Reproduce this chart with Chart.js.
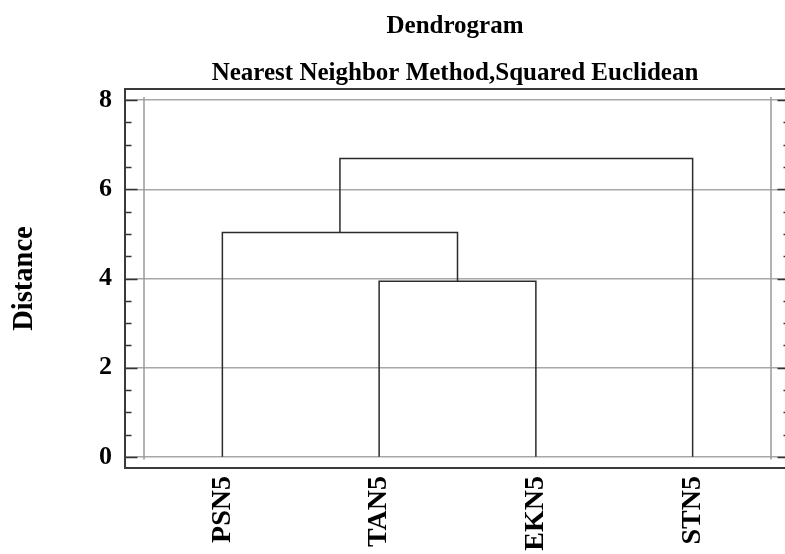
<!DOCTYPE html>
<html>
<head>
<meta charset="utf-8">
<script src="https://cdn.jsdelivr.net/npm/chart.js@4/dist/chart.umd.min.js"></script>
<style>
  body { margin: 0; background: #fff; }
  #wrap { width: 785px; height: 554px; }
</style>
</head>
<body>
<div id="wrap"><canvas id="myChart" width="785" height="554"></canvas></div>
<script>
// leaves in drawing order
var leafLabels = ['PSN5', 'TAN5', 'EKN5', 'STN5'];
// merges: left child, right child, height (c0, c1.. = earlier merges)
var mergeLeft = ['TAN5', 'PSN5', 'c1'];
var mergeRight = ['EKN5', 'c0', 'STN5'];
var mergeHeights = [3.94, 5.03, 6.69];
var yTicks = [0, 2, 4, 6, 8];

var serif = "'Liberation Serif', 'Times New Roman', serif";

function nodePos(name) {
    var i = leafLabels.indexOf(name);
    if (i >= 0) return { x: i + 1, y: 0 };
    var k = parseInt(name.slice(1));
    var a = nodePos(mergeLeft[k]);
    var b = nodePos(mergeRight[k]);
    return { x: (a.x + b.x) / 2, y: mergeHeights[k] };
}

var datasets = [];
for (var k = 0; k < mergeHeights.length; k++) {
    var a = nodePos(mergeLeft[k]);
    var b = nodePos(mergeRight[k]);
    var h = mergeHeights[k];
    datasets.push({
        data: [{ x: a.x, y: a.y }, { x: a.x, y: h }, { x: b.x, y: h }, { x: b.x, y: b.y }],
        borderColor: '#2b2b2b',
        borderWidth: 1.5,
        pointRadius: 0,
        fill: false,
        tension: 0
    });
}

// frame, inner gray verticals and the tick marks
var framePlugin = {
    id: 'frame',
    afterDraw: function (chart) {
        var ctx = chart.ctx;
        var area = chart.chartArea;
        var xs = chart.scales.x, ys = chart.scales.y;
        ctx.save();

        // inner verticals
        ctx.strokeStyle = '#9a9a9a';
        ctx.lineWidth = 1.5;
        [0.5, leafLabels.length + 0.5].forEach(function (v) {
            var px = xs.getPixelForValue(v);
            ctx.beginPath();
            ctx.moveTo(px, ys.getPixelForValue(8.07));
            ctx.lineTo(px, ys.getPixelForValue(-0.06));
            ctx.stroke();
        });

        // ticks
        ctx.strokeStyle = '#333';
        ctx.lineWidth = 1.5;
        var right = area.right + 5;
        for (var v = 0; v <= 8.001; v += 0.5) {
            var py = Math.round(ys.getPixelForValue(v)) + 0.5;
            var major = Math.abs(v % 2) < 0.001;
            var len = major ? 12.5 : 6.5;
            ctx.beginPath();
            ctx.moveTo(area.left, py);
            ctx.lineTo(area.left + len, py);
            ctx.moveTo(right, py);
            ctx.lineTo(right - len, py);
            ctx.stroke();
        }

        // outer frame
        ctx.strokeStyle = '#3a3a3a';
        ctx.lineWidth = 2;
        ctx.beginPath();
        ctx.moveTo(area.right + 10, area.top);
        ctx.lineTo(area.left, area.top);
        ctx.lineTo(area.left, area.bottom);
        ctx.lineTo(area.right + 10, area.bottom);
        ctx.stroke();
        ctx.restore();
    }
};

new Chart('myChart', {
    type: 'line',
    data: { datasets: datasets },
    plugins: [framePlugin],
    options: {
        responsive: false,
        animation: false,
        events: [],
        layout: { padding: 0 },
        plugins: {
            legend: { display: false },
            tooltip: { enabled: false },
            title: {
                display: true,
                text: 'Dendrogram',
                fullSize: false,
                color: '#000',
                font: { family: serif, size: 25, weight: 'bold' },
                padding: { top: 12, bottom: 7 }
            },
            subtitle: {
                display: true,
                text: 'Nearest Neighbor Method,Squared Euclidean',
                fullSize: false,
                color: '#000',
                font: { family: serif, size: 25, weight: 'bold' },
                padding: { top: 10, bottom: 0 }
            }
        },
        scales: {
            x: {
                type: 'linear',
                min: 0.3788,
                max: 4.5893,
                afterBuildTicks: function (axis) {
                    axis.ticks = leafLabels.map(function (l, i) { return { value: i + 1 }; });
                },
                afterFit: function (axis) { axis.height = 86; },
                grid: { display: false, drawTicks: false },
                border: { display: false },
                ticks: {
                    autoSkip: false,
                    maxRotation: 90,
                    minRotation: 90,
                    padding: 8,
                    color: '#000',
                    font: { family: serif, size: 28, weight: 'bold' },
                    callback: function (v) { return leafLabels[Math.round(v) - 1]; }
                }
            },
            y: {
                min: -0.25,
                max: 8.25,
                afterBuildTicks: function (axis) {
                    axis.ticks = yTicks.map(function (v) { return { value: v }; });
                },
                afterFit: function (axis) { axis.width = 125; },
                grid: { color: '#a8a8a8', lineWidth: 1.5, drawTicks: false },
                border: { display: false },
                ticks: {
                    padding: 13,
                    color: '#000',
                    font: { family: serif, size: 26, weight: 'bold' }
                },
                title: {
                    display: true,
                    text: 'Distance',
                    color: '#000',
                    font: { family: serif, size: 28.5, weight: 'bold' },
                    padding: { top: 8, bottom: 47 }
                }
            }
        }
    }
});
</script>
</body>
</html>
